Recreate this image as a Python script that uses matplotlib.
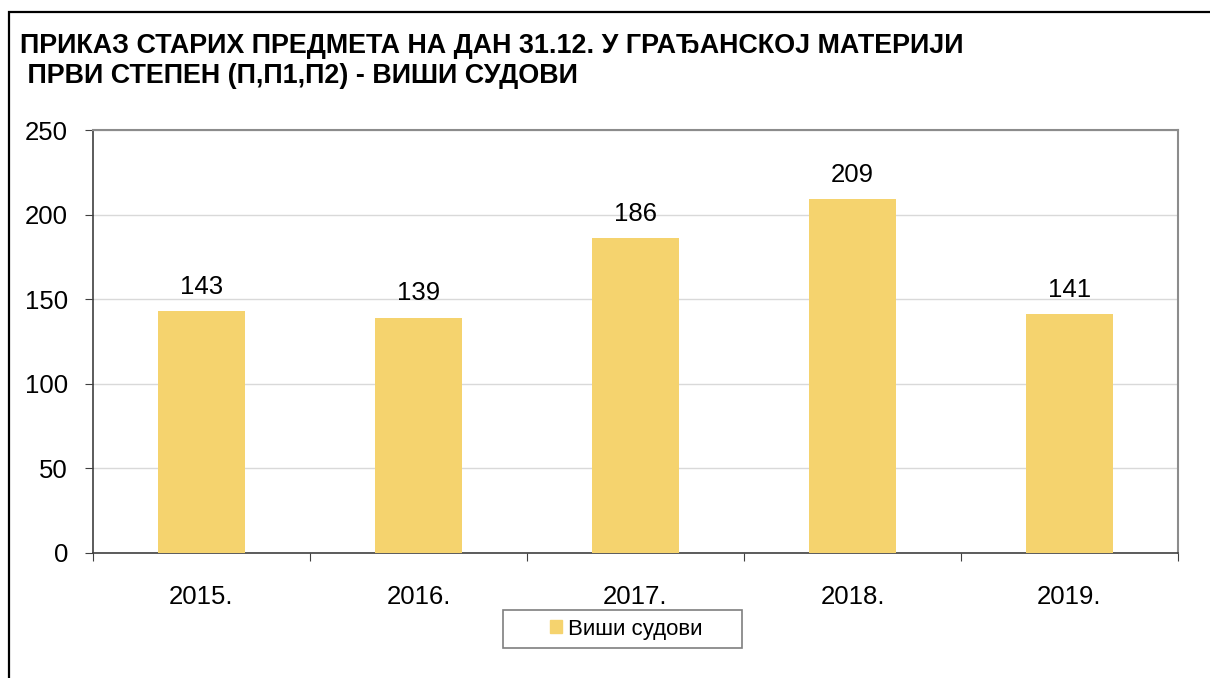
import matplotlib
matplotlib.use("Agg")
import matplotlib.pyplot as plt
from matplotlib.patches import Rectangle

plt.rcParams['font.family'] = ['Liberation Sans', 'DejaVu Sans']

categories = ["2015.", "2016.", "2017.", "2018.", "2019."]
values = [143, 139, 186, 209, 141]
series_name = "Виши судови"
title_lines = ["ПРИКАЗ СТАРИХ ПРЕДМЕТА НА ДАН 31.12. У ГРАЂАНСКОЈ МАТЕРИЈИ",
               " ПРВИ СТЕПЕН (П,П1,П2) - ВИШИ СУДОВИ"]
yticks = [0, 50, 100, 150, 200, 250]

W, H = 1210, 678
fig = plt.figure(figsize=(W / 100, H / 100), dpi=100)
fig.patch.set_facecolor("white")

# outer frame (left/top visible)
fig.add_artist(Rectangle((9 / W, -0.1), 1.5, (H - 12) / H + 0.1, transform=fig.transFigure,
                         fill=False, edgecolor="black", linewidth=1.6))

ax = fig.add_axes([93 / W, 1 - 553 / H, (1178 - 93) / W, (553 - 130) / H])
x = list(range(len(categories)))
bar_color = "#F5D36E"
ax.bar(x, values, width=0.4, color=bar_color, zorder=3)
ax.set_xlim(-0.5, len(categories) - 0.5)
ax.set_ylim(0, 250)
ax.set_yticks(yticks)
ax.set_yticklabels([str(v) for v in yticks], fontsize=18.5)
ax.yaxis.grid(True, color="#D9D9D9", linewidth=1, zorder=0)
ax.set_xticks([i - 0.5 for i in range(len(categories) + 1)], minor=False)
ax.set_xticklabels([])
ax.set_xticks(x, minor=True)
ax.set_xticklabels(categories, minor=True, fontsize=18.5)
ax.tick_params(axis="x", which="minor", length=0, pad=23)
ax.tick_params(axis="x", which="major", length=6, direction="out", color="#404040")
ax.tick_params(axis="y", length=6, direction="out", color="#404040", pad=12)
for s in ["top", "right"]:
    ax.spines[s].set_color("#8C8C8C")
    ax.spines[s].set_linewidth(1.5)
for s in ["left", "bottom"]:
    ax.spines[s].set_color("#404040")
    ax.spines[s].set_linewidth(1.2)

for xi, v in zip(x, values):
    ax.annotate(str(v), (xi, v), xytext=(0, 9), textcoords="offset points",
                ha="center", va="bottom", fontsize=18.5, zorder=4)

fig.text(20 / W, 1 - 46 / H, title_lines[0], fontsize=19.4, fontweight="bold", va="center", ha="left")
fig.text(20 / W, 1 - 76 / H, title_lines[1], fontsize=19.4, fontweight="bold", va="center", ha="left")

# legend frame drawn separately (wider padding than matplotlib's uniform borderpad)
fig.add_artist(Rectangle((503 / W, 1 - 648 / H), (742 - 503) / W, (648 - 610) / H,
                         transform=fig.transFigure, fill=False, edgecolor="#7F7F7F",
                         linewidth=1.2))
leg = fig.legend([Rectangle((0, 0), 1, 1, color=bar_color)], [series_name],
                 loc="center", bbox_to_anchor=(626 / W, 1 - 629 / H), fontsize=16,
                 frameon=False, handlelength=0.55,
                 handleheight=0.55, handletextpad=0.25, borderpad=0.3, borderaxespad=0)

fig.savefig("out.png", dpi=100)
